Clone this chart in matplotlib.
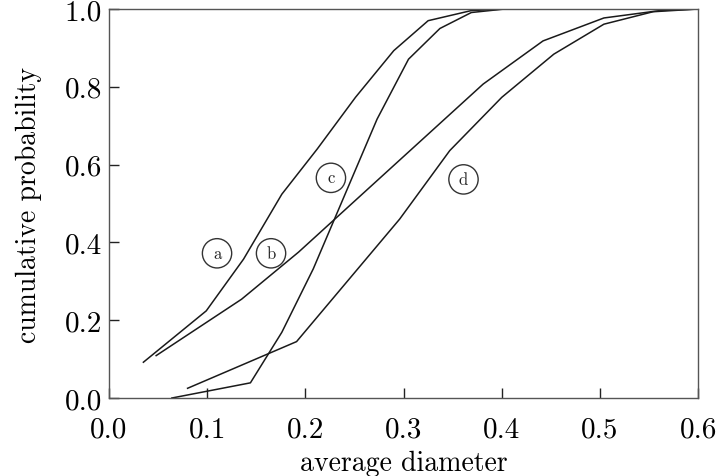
import numpy as np
import matplotlib
matplotlib.use("Agg")
import matplotlib.pyplot as plt

# curve data (x = average diameter, y = cumulative probability)
a_x = [0.035, 0.099, 0.137, 0.176, 0.212, 0.251, 0.290, 0.325, 0.369, 0.403]
a_y = [0.092, 0.224, 0.357, 0.524, 0.640, 0.773, 0.893, 0.970, 0.996, 1.0]

b_x = [0.048, 0.135, 0.193, 0.381, 0.442, 0.504, 0.561, 0.6]
b_y = [0.109, 0.254, 0.375, 0.807, 0.918, 0.977, 0.996, 1.0]

c_x = [0.064, 0.144, 0.176, 0.208, 0.273, 0.305, 0.337, 0.369, 0.403]
c_y = [0.0, 0.039, 0.169, 0.332, 0.717, 0.871, 0.950, 0.991, 1.0]

d_x = [0.080, 0.191, 0.296, 0.347, 0.400, 0.453, 0.504, 0.554, 0.6]
d_y = [0.025, 0.145, 0.460, 0.636, 0.773, 0.884, 0.961, 0.993, 1.0]

labels = ["a", "b", "c", "d"]
label_x = [0.110, 0.165, 0.226, 0.361]
label_y = [0.372, 0.372, 0.566, 0.562]

plt.rcParams['font.family'] = ['cmr10', 'DejaVu Serif']
plt.rcParams['axes.formatter.use_mathtext'] = True

fig = plt.figure(figsize=(7.22, 4.77), dpi=100)
ax = fig.add_axes([0.151, 0.1635, 0.816, 0.8155])

for xs, ys in [(a_x, a_y), (b_x, b_y), (c_x, c_y), (d_x, d_y)]:
    ax.plot(xs, ys, color="#1a1a1a", lw=1.1)

# circled curve labels
for lab, lx, ly in zip(labels, label_x, label_y):
    ax.text(lx, ly, lab, ha="center", va="center", fontsize=12, color="#222222",
            bbox=dict(boxstyle="circle,pad=0.42", fc="white", ec="#333333", lw=1.0))

ax.set_xlim(0, 0.6)
ax.set_ylim(0, 1.0)
ax.set_xticks(np.arange(0, 0.61, 0.1))
ax.set_yticks(np.arange(0, 1.01, 0.2))
ax.set_xticklabels(["0.0", "0.1", "0.2", "0.3", "0.4", "0.5", "0.6"])
ax.set_yticklabels(["0.0", "0.2", "0.4", "0.6", "0.8", "1.0"])
ax.tick_params(direction="in", length=7, width=1.0, labelsize=21, color="#222222")
ax.tick_params(axis="x", pad=13)
ax.tick_params(axis="y", pad=5)

for sp in ax.spines.values():
    sp.set_color("#555555")
    sp.set_linewidth(1.0)

ax.set_xlabel("average diameter", fontsize=20, labelpad=5)
ax.set_ylabel("cumulative probability", fontsize=20, labelpad=16)

fig.savefig("out.png", dpi=100)
